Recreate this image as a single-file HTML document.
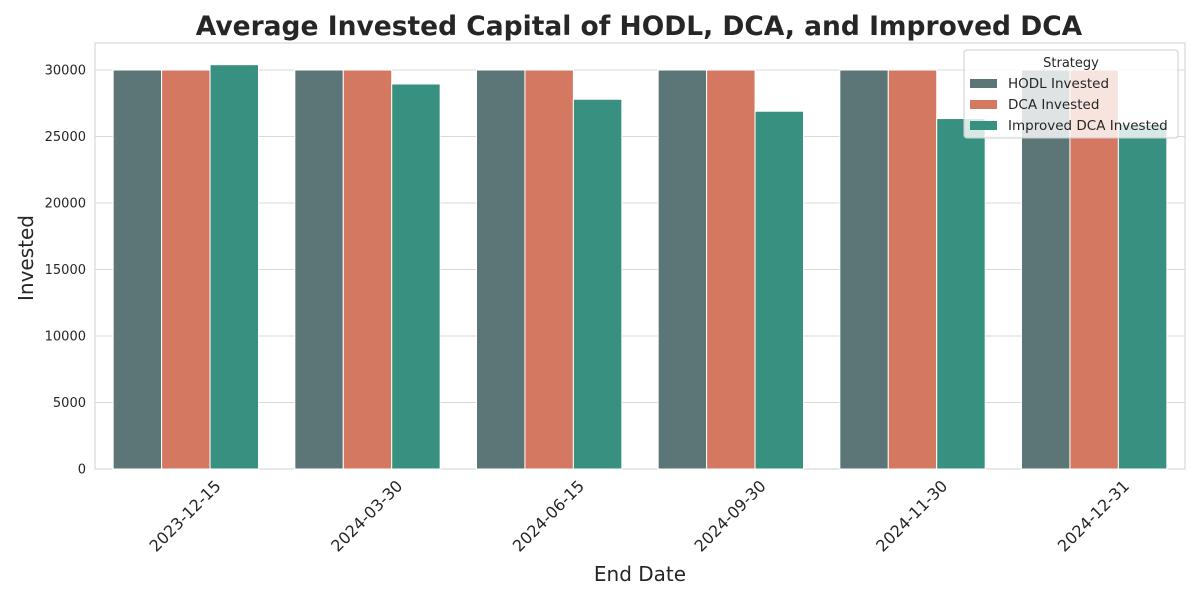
<!DOCTYPE html>
<html><head><meta charset="utf-8"><style>
body{margin:0;background:#fff;font-family:"Liberation Sans","DejaVu Sans",sans-serif}
</style></head><body>
<svg id="c" width="1200" height="600" xmlns="http://www.w3.org/2000/svg" style="font-family:'DejaVu Sans','Liberation Sans',sans-serif"></svg>
<script>
const categories=["2023-12-15","2024-03-30","2024-06-15","2024-09-30","2024-11-30","2024-12-31"];
const hodl=[30000,30000,30000,30000,30000,30000];
const dca=[30000,30000,30000,30000,30000,30000];
const improved=[30400,28950,27800,26900,26350,25900];
const yTicks=[0,5000,10000,15000,20000,25000,30000];
const seriesNames=["HODL Invested","DCA Invested","Improved DCA Invested"];
const colors=["#5c7677","#d47862","#379080"];
const svg=document.getElementById('c');
const NS="http://www.w3.org/2000/svg";
const L=95,R=1185,T=43,B=469;
const y=v=>B-v*(B-70)/30000;
const step=(R-L)/categories.length;
const x=i=>L+step*(i+0.5);
function mk(t,a,p){const e=document.createElementNS(NS,t);for(const k in a)e.setAttribute(k,a[k]);(p||svg).appendChild(e);return e;}
yTicks.forEach(v=>{
 const g=mk('line',{x1:L,x2:R,y1:y(v),y2:y(v),stroke:'#d9d9d9','stroke-width':1});
 
 
 const t=mk('text',{x:L-9,y:y(v)+4.5,'text-anchor':'end','font-size':13,fill:'#262626'});t.textContent=v;
 
 
});
const frame=mk('rect',{x:L,y:T,width:R-L,height:B-T,fill:'none',stroke:'#d0d0d0'});


const bw=step*0.8/3;
[hodl,dca,improved].forEach((s,k)=>{
 s.forEach((v,i)=>{
  const bx=x(i)-step*0.4+k*bw;
  const r=mk('rect',{x:bx,y:y(v),width:bw,height:B-y(v),fill:colors[k],stroke:'#fff','stroke-width':1});
  
  
 });
});
categories.forEach((c,i)=>{
 const t=mk('text',{transform:`translate(${x(i)+36},${B+18}) rotate(-45)`,'text-anchor':'end','font-size':16,fill:'#262626'});t.textContent=c;
 
 
});
const ti=mk('text',{x:639,y:35,'text-anchor':'middle','font-size':26.5,'font-weight':'bold',fill:'#262626'});ti.textContent="Average Invested Capital of HODL, DCA, and Improved DCA";


const xt=mk('text',{x:640,y:581,'text-anchor':'middle','font-size':20,fill:'#262626'});xt.textContent="End Date";


const yt=mk('text',{transform:'translate(33,258) rotate(-90)','text-anchor':'middle','font-size':20,fill:'#262626'});yt.textContent="Invested";


const lg=mk('g',{});


mk('rect',{x:964,y:50,width:214,height:88,rx:3,fill:'#fff','fill-opacity':0.8,stroke:'#ccc'},lg);
const lt=mk('text',{x:1071,y:67,'text-anchor':'middle','font-size':13,fill:'#262626'},lg);lt.textContent="Strategy";
seriesNames.forEach((n,k)=>{
 const sw=mk('rect',{x:970,y:79+k*21,width:27,height:9,fill:colors[k]},lg);
 
 
 const t=mk('text',{x:1008,y:88+k*21,'font-size':13.5,fill:'#262626'},lg);t.textContent=n;
 
 
});
</script>
</body></html>
